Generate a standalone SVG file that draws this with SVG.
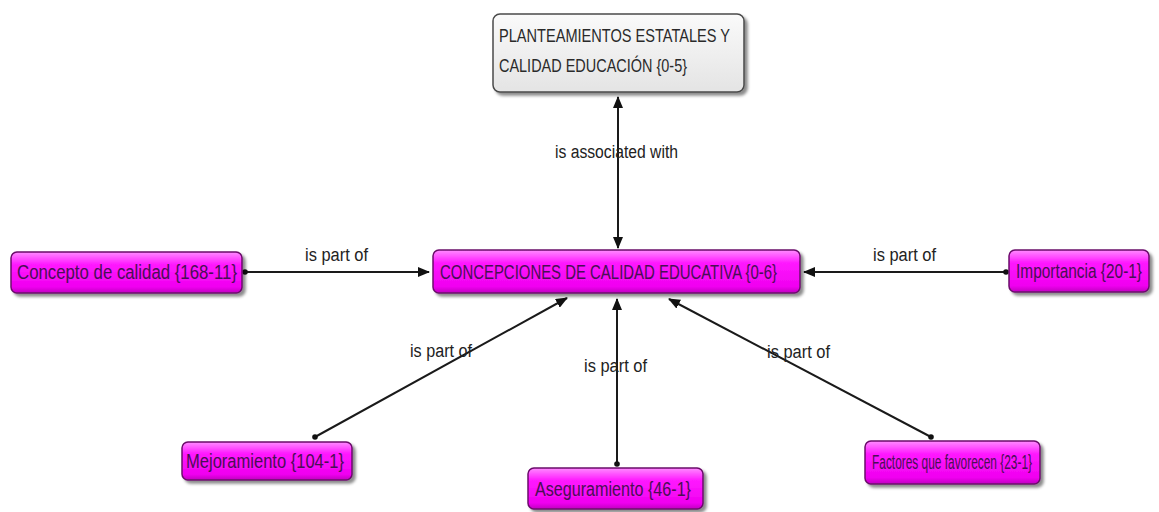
<svg xmlns="http://www.w3.org/2000/svg" width="1159" height="512" viewBox="0 0 1159 512">
  <style>
    .node-box { fill: url(#magentaFill); stroke: #6b0a6b; stroke-width: 1.5; filter: url(#shadow); }
    .root-box { fill: url(#greyFill); stroke: #4a4a4a; stroke-width: 1.5; filter: url(#shadow); }
    .node-text { font-family: "Liberation Sans", Arial, sans-serif; font-size: 20px; fill: #4a0f55; }
    .root-text { font-family: "Liberation Sans", Arial, sans-serif; font-size: 19px; fill: #2a2a2a; }
    .link { stroke: #1a1a1a; stroke-width: 2; fill: none; }
    .link-label { font-family: "Liberation Sans", Arial, sans-serif; font-size: 18px; fill: #222; }
    .tail { fill: #111; }
  </style>
  <defs>
    <linearGradient id="magentaFill" x1="0" y1="0" x2="0" y2="1">
      <stop offset="0" stop-color="#ff8cff"/>
      <stop offset="0.3" stop-color="#ff1aff"/>
      <stop offset="0.85" stop-color="#f000f0"/>
      <stop offset="1" stop-color="#c000c0"/>
    </linearGradient>
    <linearGradient id="greyFill" x1="0" y1="0" x2="0" y2="1">
      <stop offset="0" stop-color="#fafafa"/>
      <stop offset="1" stop-color="#e4e4e4"/>
    </linearGradient>
    <filter id="shadow" x="-10%" y="-20%" width="125%" height="160%">
      <feDropShadow dx="3" dy="3" stdDeviation="1.5" flood-color="#000" flood-opacity="0.45"/>
    </filter>
    <marker id="arrow" markerWidth="12" markerHeight="10" refX="11" refY="5" orient="auto" markerUnits="userSpaceOnUse">
      <path d="M0,0 L12,5 L0,10 Z" fill="#111"/>
    </marker>
  </defs>

  <!-- connectors -->
  <g id="connectors">
    <!-- root <-> central concept -->
    <line class="link" x1="618" y1="185" x2="618" y2="97" marker-end="url(#arrow)"/>
    <line class="link" x1="618" y1="185" x2="618" y2="248" marker-end="url(#arrow)"/>
    <text class="link-label" x="555" y="158" textLength="123" lengthAdjust="spacingAndGlyphs">is associated with</text>

    <!-- Concepto de calidad -> central -->
    <line class="link" x1="245" y1="272" x2="429" y2="272" marker-end="url(#arrow)"/>
    <circle class="tail" cx="245" cy="272" r="2.8"/>
    <text class="link-label" x="305" y="261" textLength="63" lengthAdjust="spacingAndGlyphs">is part of</text>

    <!-- Importancia -> central -->
    <line class="link" x1="1006" y1="272" x2="804" y2="272" marker-end="url(#arrow)"/>
    <circle class="tail" cx="1006" cy="272" r="2.8"/>
    <text class="link-label" x="873" y="261" textLength="63" lengthAdjust="spacingAndGlyphs">is part of</text>

    <!-- Mejoramiento -> central -->
    <line class="link" x1="315" y1="437" x2="567" y2="298" marker-end="url(#arrow)"/>
    <circle class="tail" cx="315" cy="437" r="2.8"/>
    <text class="link-label" x="410" y="357" textLength="62" lengthAdjust="spacingAndGlyphs">is part of</text>

    <!-- Aseguramiento -> central -->
    <line class="link" x1="617" y1="464" x2="617" y2="299" marker-end="url(#arrow)"/>
    <circle class="tail" cx="617" cy="464" r="2.8"/>
    <text class="link-label" x="584" y="372" textLength="63" lengthAdjust="spacingAndGlyphs">is part of</text>

    <!-- Factores que favorecen -> central -->
    <line class="link" x1="931" y1="437" x2="669" y2="299" marker-end="url(#arrow)"/>
    <circle class="tail" cx="931" cy="437" r="2.8"/>
    <text class="link-label" x="767" y="358" textLength="63" lengthAdjust="spacingAndGlyphs">is part of</text>
  </g>

  <!-- nodes -->
  <g id="node-planteamientos">
    <rect class="root-box" x="493" y="14" width="251" height="78" rx="7"/>
    <text class="root-text" x="499" y="42" textLength="231" lengthAdjust="spacingAndGlyphs">PLANTEAMIENTOS ESTATALES Y</text>
    <text class="root-text" x="499" y="72" textLength="188" lengthAdjust="spacingAndGlyphs">CALIDAD EDUCACIÓN {0-5}</text>
  </g>

  <g id="node-concepciones">
    <rect class="node-box" x="433" y="250" width="367" height="43" rx="6"/>
    <text class="node-text" x="440" y="279" textLength="337" lengthAdjust="spacingAndGlyphs">CONCEPCIONES DE CALIDAD EDUCATIVA {0-6}</text>
  </g>

  <g id="node-concepto">
    <rect class="node-box" x="11" y="252" width="231" height="41" rx="6"/>
    <text class="node-text" x="17" y="279" textLength="220" lengthAdjust="spacingAndGlyphs">Concepto de calidad {168-11}</text>
  </g>

  <g id="node-importancia">
    <rect class="node-box" x="1009" y="250" width="140" height="42" rx="6"/>
    <text class="node-text" x="1016" y="278" font-size="17" textLength="126" lengthAdjust="spacingAndGlyphs">Importancia {20-1}</text>
  </g>

  <g id="node-mejoramiento">
    <rect class="node-box" x="182" y="442" width="170" height="38" rx="6"/>
    <text class="node-text" x="186" y="468" textLength="158" lengthAdjust="spacingAndGlyphs">Mejoramiento {104-1}</text>
  </g>

  <g id="node-aseguramiento">
    <rect class="node-box" x="528" y="468" width="175" height="41" rx="6"/>
    <text class="node-text" x="535" y="496" textLength="156" lengthAdjust="spacingAndGlyphs">Aseguramiento {46-1}</text>
  </g>

  <g id="node-factores">
    <rect class="node-box" x="865" y="441" width="175" height="43" rx="6"/>
    <text class="node-text" x="872" y="469" font-size="19" textLength="160" lengthAdjust="spacingAndGlyphs">Factores que favorecen {23-1}</text>
  </g>
</svg>
